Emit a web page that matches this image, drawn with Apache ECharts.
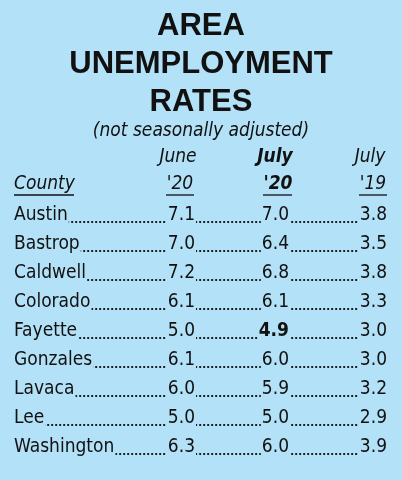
<!DOCTYPE html>
<html><head><meta charset="utf-8">
<script src="https://cdn.jsdelivr.net/npm/echarts@6/dist/echarts.min.js"></script>
<style>html,body{margin:0;background:#b3e1f7}#c{width:402px;height:480px}</style>
</head><body><div id="c"></div>
<script>
const counties = ['Austin','Bastrop','Caldwell','Colorado','Fayette','Gonzales','Lavaca','Lee','Washington'];
const june20 = ['7.1','7.0','7.2','6.1','5.0','6.1','6.0','5.0','6.3'];
const july20 = ['7.0','6.4','6.8','6.1','4.9','6.0','5.9','5.0','6.0'];
const july19 = ['3.8','3.5','3.8','3.3','3.0','3.0','3.2','2.9','3.9'];
const boldCell = { row: 4, col: 1 };

const BG = '#b3e1f7';
const FONT = "'Liberation Sans Narrow','DejaVu Sans Condensed',sans-serif";
const colRight = [196, 290, 388];

const chart = echarts.init(document.getElementById('c'));

function txt(x, y, s, opt) {
  return { type: 'text', x: x, y: y, style: Object.assign({ text: s, font: '19px ' + FONT, fill: '#111', textVerticalAlign: 'middle' }, opt || {}) };
}

function renderRow(params, api) {
  const i = api.value(0);
  const y = api.coord([0, counties[i]])[1];
  const vals = [june20[i], july20[i], july19[i]];
  const kids = [{
    type: 'line',
    shape: { x1: 16, y1: y + 6.5, x2: 386, y2: y + 6.5 },
    style: { stroke: '#111', lineWidth: 2, lineDash: [0.3, 3.7], lineCap: 'round' }
  }];
  kids.push(txt(14, y, counties[i], { backgroundColor: BG, padding: [0, 1, 0, 0] }));
  vals.forEach(function (v, c) {
    const bold = boldCell.row === i && boldCell.col === c;
    kids.push(txt(colRight[c], y, v, {
      textAlign: 'right', backgroundColor: BG, padding: [0, 1, 0, 1],
      font: (bold ? 'bold ' : '') + '19px ' + FONT
    }));
  });
  return { type: 'group', children: kids };
}

chart.setOption({
  backgroundColor: BG,
  animation: false,
  grid: { left: 0, right: 0, top: 201, height: 261 },
  xAxis: { type: 'value', min: 0, max: 402, show: false },
  yAxis: { type: 'category', data: counties, inverse: true, show: false },
  title: [
    { text: 'AREA\nUNEMPLOYMENT\nRATES', left: 'center', top: 2,
      textStyle: { fontFamily: 'Liberation Sans, Arial, sans-serif', fontWeight: 'bold', fontSize: 31, lineHeight: 38, color: '#111', align: 'center' } },
    { text: '(not seasonally adjusted)', left: 'center', top: 117,
      textStyle: { fontFamily: FONT, fontStyle: 'italic', fontWeight: 'normal', fontSize: 19, color: '#111' } }
  ],
  graphic: [
    txt(178, 157, 'June', { textAlign: 'center', font: 'italic 19px ' + FONT }),
    txt(275, 157, 'July', { textAlign: 'center', font: 'italic bold 19px ' + FONT }),
    txt(370, 157, 'July', { textAlign: 'center', font: 'italic 19px ' + FONT }),
    txt(14, 184, 'County', { font: 'italic 19px ' + FONT }),
    txt(180, 184, "'20", { textAlign: 'center', font: 'italic 19px ' + FONT }),
    txt(278, 184, "'20", { textAlign: 'center', font: 'italic bold 19px ' + FONT }),
    txt(373, 184, "'19", { textAlign: 'center', font: 'italic 19px ' + FONT }),
    { type: 'line', shape: { x1: 14, y1: 195, x2: 74, y2: 195 }, style: { stroke: '#111', lineWidth: 1.3 } },
    { type: 'line', shape: { x1: 166, y1: 195, x2: 194, y2: 195 }, style: { stroke: '#111', lineWidth: 1.3 } },
    { type: 'line', shape: { x1: 263, y1: 195, x2: 292, y2: 195 }, style: { stroke: '#111', lineWidth: 1.3 } },
    { type: 'line', shape: { x1: 359, y1: 195, x2: 387, y2: 195 }, style: { stroke: '#111', lineWidth: 1.3 } }
  ],
  series: [{
    type: 'custom',
    renderItem: renderRow,
    data: counties.map(function (_, i) { return [i]; }),
    encode: { x: -1, y: 0 }
  }]
});
</script></body></html>
